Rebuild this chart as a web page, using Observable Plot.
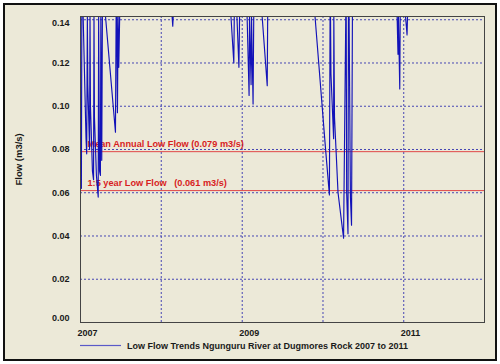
<!DOCTYPE html>
<html><head><meta charset="utf-8">
<script src="https://cdn.jsdelivr.net/npm/d3@7"></script>
<script src="https://cdn.jsdelivr.net/npm/@observablehq/plot@0.6"></script>
<style>
html,body{margin:0;padding:0;background:#fff;}
#chart{width:500px;height:364px;}
</style></head><body><div id="chart"></div>
<script>
// Daily low-flow series (0.1415 = values at/above the top of the chart)
const dates = [
  "2007-01-01","2007-01-05","2007-01-07","2007-01-13","2007-01-26","2007-01-29","2007-02-01","2007-02-03",
  "2007-02-11","2007-02-13","2007-02-15","2007-02-24","2007-03-01","2007-03-03","2007-03-05","2007-03-14",
  "2007-03-22","2007-03-24","2007-03-28","2007-04-01","2007-04-03","2007-04-07","2007-04-10","2007-04-24",
  "2007-06-08","2007-06-11","2007-06-14","2007-06-17","2007-06-20","2007-06-23","2007-06-27",
  "2008-02-19","2008-02-22","2008-02-24",
  "2008-11-11","2008-11-24","2008-11-26","2008-12-08","2008-12-17","2008-12-20","2009-01-23",
  "2009-02-01","2009-02-03","2009-02-10","2009-02-12","2009-02-19","2009-02-22","2009-04-01","2009-04-24","2009-04-26",
  "2009-11-26","2010-01-12","2010-01-30","2010-02-02","2010-02-04","2010-02-06","2010-02-18","2010-02-19",
  "2010-02-22","2010-03-10","2010-04-04","2010-04-14","2010-04-16","2010-04-18","2010-04-24","2010-04-26",
  "2010-04-29","2010-05-05","2010-05-10","2010-05-14",
  "2010-12-02","2010-12-06","2010-12-08","2010-12-14","2010-12-16",
  "2011-01-09","2011-01-16","2011-01-18","2011-10-16"
];
const flows = [
  0.066,0.062,0.1415,0.1415,0.085,0.078,0.1415,0.110,
  0.080,0.1415,0.100,0.070,0.066,0.1415,0.095,0.068,
  0.058,0.1415,0.070,0.068,0.1415,0.075,0.1415,0.1415,
  0.088,0.1415,0.1415,0.097,0.1415,0.118,0.1415,
  0.1415,0.137,0.1415,
  0.1415,0.120,0.1415,0.1415,0.118,0.1415,0.1415,
  0.105,0.1415,0.110,0.1415,0.101,0.1415,0.1415,0.1095,0.1415,
  0.1415,0.081,0.059,0.1415,0.1415,0.115,0.085,0.1415,
  0.095,0.060,0.039,0.1415,0.1415,0.060,0.041,0.1415,
  0.1415,0.058,0.045,0.1415,
  0.1415,0.124,0.1415,0.108,0.1415,
  0.1415,0.133,0.1415,0.1415
];
const yTicks = [0, 0.02, 0.04, 0.06, 0.08, 0.10, 0.12, 0.14];
const xLabelYears = ["2007", "2009", "2011"];
const gridYears = ["2008", "2009", "2010", "2011"];
const xDomain = ["2007-01-01", "2012-01-01"];
const yTop = 0.1415;
const refValues = [0.079, 0.061];
const refLabels = ["Mean Annual Low Flow (0.079 m3/s)", "1:5 year Low Flow\u00a0\u00a0\u00a0(0.061 m3/s)"];
const legendLabel = "Low Flow Trends Ngunguru River at Dugmores Rock 2007 to 2011";
const yTitle = "Flow (m3/s)";

const parse = d3.utcParse("%Y-%m-%d");
const series = dates.map((d, i) => ({date: parse(d), flow: flows[i]}));
const refs = refValues.map((v, i) => ({value: v, label: refLabels[i]}));

const BG = "#ece9d8";
const BLUE = "#1212b8";
const GRID = "#4646b4";
const RED = "#d81e1e";
const INK = "#1a1a1a";
const FONT = "Liberation Sans, Arial, sans-serif";

function background(index, scales, values, dims) {
  const g = d3.create("svg:g");
  g.append("rect").attr("x", 4).attr("y", 4).attr("width", 492).attr("height", 356)
    .attr("fill", BG).attr("stroke", "#111").attr("stroke-width", 2);
  return g.node();
}
function legend(index, scales, values, dims) {
  const g = d3.create("svg:g");
  const y = dims.height - 18.5;
  g.append("rect").attr("x", dims.marginLeft).attr("y", y - 0.6).attr("width", 41).attr("height", 1.2)
    .style("fill", "#5a5ac8").style("stroke", "none");
  g.append("text").attr("x", dims.marginLeft + 47).attr("y", y + 3.5)
    .attr("text-anchor", "start")
    .attr("font-family", FONT).attr("font-size", 9).attr("font-weight", "bold")
    .attr("fill", INK).text(legendLabel);
  return g.node();
}
const yAxisOpts = {tickSize: 0, tickPadding: 11, tickFormat: d3.format(".2f"), label: null,
  fontWeight: "bold", fontSize: 9, fill: INK};

const chart = Plot.plot({
  width: 500,
  height: 364,
  marginLeft: 80,
  marginRight: 16,
  marginTop: 16,
  marginBottom: 42,
  style: {background: "white", fontFamily: FONT},
  x: {type: "utc", domain: xDomain.map(parse)},
  y: {domain: [0, yTop]},
  marks: [
    background,
    Plot.gridX({ticks: gridYears.map(d => parse(d + "-01-01")), stroke: GRID, strokeOpacity: 1, strokeDasharray: "2,2"}),
    Plot.gridY({ticks: yTicks.slice(1), stroke: GRID, strokeOpacity: 1, strokeDasharray: "2,2"}),
    Plot.ruleY(refs, {y: "value", stroke: "#e04848", strokeWidth: 1}),
    Plot.text(refs, {x: () => parse(xDomain[0]), y: "value", text: "label", textAnchor: "start", dx: 7, dy: -7.5,
      fill: RED, fontWeight: "bold", fontSize: 9.2}),
    Plot.line(series, {x: "date", y: "flow", stroke: BLUE, strokeWidth: 1.15}),
    Plot.frame({stroke: "#444"}),
    Plot.axisY({...yAxisOpts, ticks: yTicks.slice(1, -1)}),
    Plot.axisY({...yAxisOpts, ticks: yTicks.slice(-1), dy: 3}),
    Plot.axisY({...yAxisOpts, ticks: yTicks.slice(0, 1), dy: -4}),
    Plot.axisX({ticks: xLabelYears.map(d => parse(d + "-01-01")), tickSize: 0, tickPadding: 7, tickFormat: d3.utcFormat("%Y"),
      label: null, textAnchor: "start", dx: -3, fontWeight: "bold", fontSize: 9, fill: INK}),
    Plot.text([yTitle], {frameAnchor: "left", dx: -62, dy: 16, rotate: -90, fontWeight: "bold", fontSize: 9.5, fill: INK}),
    legend
  ]
});
document.getElementById("chart").appendChild(chart);
</script>
</body></html>
